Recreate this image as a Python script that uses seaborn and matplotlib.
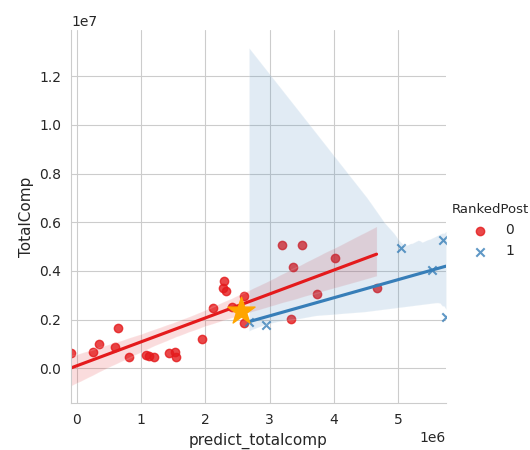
import numpy as np
import pandas as pd
import seaborn as sns
from seaborn import algorithms as algo
import matplotlib
matplotlib.use("Agg")
import matplotlib.pyplot as plt

# Data
red_x = [-0.093, 0.245, 0.347, 0.592, 0.634, 0.815, 1.075, 1.126, 1.204, 1.438,
         1.526, 1.542, 1.952, 2.114, 2.294, 2.270, 2.321, 2.410, 2.601, 2.601,
         3.189, 3.500, 3.369, 4.019, 3.734, 4.668, 3.329]
red_y = [0.606, 0.647, 0.977, 0.878, 1.637, 0.441, 0.536, 0.495, 0.466, 0.606,
         0.672, 0.441, 1.196, 2.487, 3.575, 3.287, 3.175, 2.503, 2.969, 1.843,
         5.072, 5.072, 4.153, 4.524, 3.039, 3.287, 2.021]
blue_x = [2.68, 2.944, 5.042, 5.696, 5.525, 5.75]
blue_y = [1.90, 1.773, 4.961, 5.278, 4.041, 2.116]
star_x = [2.55]
star_y = [2.363]
ranked_levels = [0, 1]

df = pd.DataFrame({
    "predict_totalcomp": np.array(red_x + blue_x) * 1e6,
    "TotalComp": np.array(red_y + blue_y) * 1e6,
    "RankedPost": [0] * len(red_x) + [1] * len(blue_x),
})

# choose a bootstrap seed whose blue CI band resembles the reference band
bx = np.array(blue_x) * 1e6
by = np.array(blue_y) * 1e6
grid = np.linspace(bx.min(), bx.max(), 100)
G = np.c_[np.ones(len(grid)), grid]
X = np.c_[np.ones(len(bx)), bx]
target = np.array([13.2e6, 1.53e6, 5.57e6, 2.47e6])


def reg_func(_x, _y):
    return np.linalg.pinv(_x).dot(_y)


best_seed, best_err = 0, np.inf
for s in range(120):
    boots = algo.bootstrap(X, by, func=reg_func, n_boot=1000, seed=s).T
    yb = G.dot(boots).T
    lo, hi = np.nanpercentile(yb, [2.5, 97.5], axis=0)
    vals = np.array([hi[0], lo[0], hi[-1], lo[-1]])
    err = np.sum(((vals - target) / 1e6) ** 2)
    if err < best_err:
        best_seed, best_err = s, err

sns.set_style("whitegrid")
g = sns.lmplot(data=df, x="predict_totalcomp", y="TotalComp", hue="RankedPost",
               hue_order=ranked_levels, markers=["o", "x"], palette="Set1",
               height=4.5, aspect=1.0, seed=best_seed)
fig = g.figure
fig.set_size_inches(5.3, 4.5)
fig.subplots_adjust(left=0.134, right=0.8415, top=0.933, bottom=0.104)
ax = g.ax
ax.scatter(np.array(star_x) * 1e6, np.array(star_y) * 1e6, marker="*", s=420,
           color="orange", zorder=10)
ax.set_xlim(min(df["predict_totalcomp"]), max(df["predict_totalcomp"]))
ax.set_ylim(-1.44e6, 13.9e6)
ax.set_xlabel("predict_totalcomp", fontsize=11)
ax.set_ylabel("TotalComp", fontsize=11)
g._legend.get_title().set_fontsize(9.5)
g._legend.set_bbox_to_anchor((1.021, 0.487))
fig.savefig("out.png", dpi=100)
